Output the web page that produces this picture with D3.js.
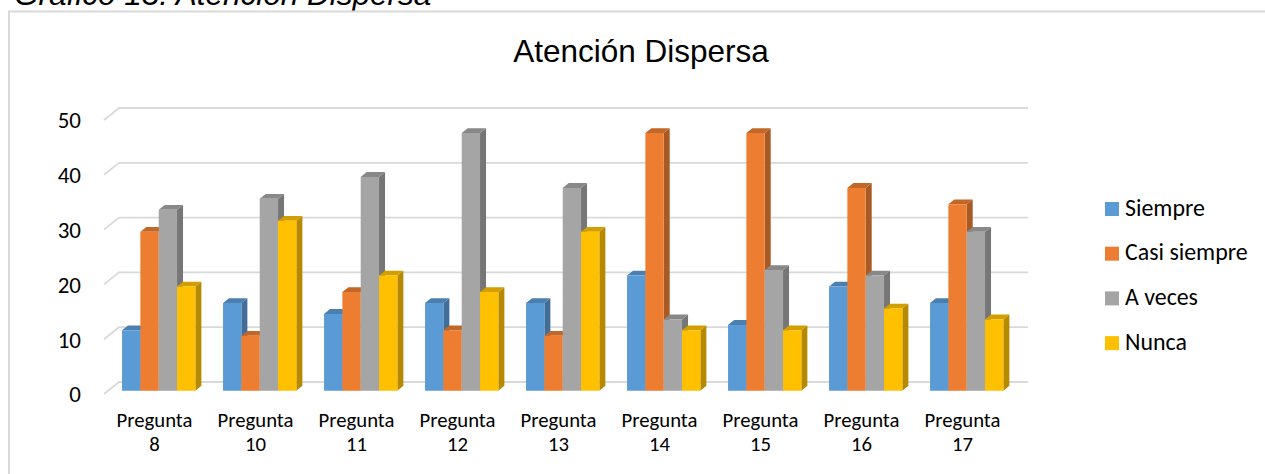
<!DOCTYPE html>
<html>
<head>
<meta charset="utf-8">
<script src="https://cdn.jsdelivr.net/npm/d3@7"></script>
<style>
  html, body { margin: 0; padding: 0; background: #fff; overflow: hidden; }
  svg { display: block; }
</style>
</head>
<body>
<svg id="chart" width="1265" height="474"></svg>
<script>
// Response counts per question
const categories = ["Pregunta 8", "Pregunta 10", "Pregunta 11", "Pregunta 12", "Pregunta 13",
                    "Pregunta 14", "Pregunta 15", "Pregunta 16", "Pregunta 17"];
const seriesNames = ["Siempre", "Casi siempre", "A veces", "Nunca"];
const siempre     = [11, 16, 14, 16, 16, 21, 12, 19, 16];
const casiSiempre = [29, 10, 18, 11, 10, 47, 47, 37, 34];
const aVeces      = [33, 35, 39, 47, 37, 13, 22, 21, 29];
const nunca       = [19, 31, 21, 18, 29, 11, 11, 15, 13];
const yTicks      = [0, 10, 20, 30, 40, 50];
const seriesColors = ["#5B9BD5", "#ED7D31", "#A5A5A5", "#FFC000"];

const seriesValues = [siempre, casiSiempre, aVeces, nunca];

const svg = d3.select("#chart");
const uiFont = "Carlito, Calibri, Lato, sans-serif";
const titleFont = "'Liberation Sans', Arial, sans-serif";

// font size that makes a sample string reach a given width
function fitSize(family, sample, target) {
  const t = svg.append("text").attr("font-family", family).attr("font-size", 100).text(sample);
  const w = t.node().getComputedTextLength();
  t.remove();
  return 100 * target / w;
}
const xLabelSize = fitSize(uiFont, "Pregunta", 76);
const yLabelSize = fitSize(uiFont, "50", 23.3);
const legendSize = fitSize(uiFont, "Casi siempre", 122.7);

// document caption above the chart frame (clipped by the page top)
svg.append("text")
  .attr("x", 14).attr("y", 4.5)
  .attr("font-family", titleFont).attr("font-style", "italic")
  .attr("font-size", 31.5).attr("fill", "#000")
  .text("Gráfico 13: Atención Dispersa");

// chart frame
svg.append("rect")
  .attr("x", 9).attr("y", 11.5).attr("width", 1400).attr("height", 600)
  .attr("fill", "none").attr("stroke", "#D9D9D9").attr("stroke-width", 2);

// title
svg.append("text")
  .attr("x", 641).attr("y", 61.7)
  .attr("text-anchor", "middle")
  .attr("font-family", titleFont).attr("font-size", 31.5).attr("fill", "#000")
  .text("Atención Dispersa");

// 3-D projection: the floor depth runs from z=0 (front) to z=1 (back wall)
const depthX = 15, depthY = -12;
const y = d3.scaleLinear().domain([0, 50]).range([394, 120]);
const x = d3.scaleBand().domain(categories).range([104, 1013]).paddingInner(0.274).paddingOuter(0.137);
const xs = d3.scaleBand().domain(seriesNames).range([0, x.bandwidth()]).padding(0);
const proj = (px, v, z) => [px + z * depthX, y(v) + z * depthY];

// gridlines: short diagonal on the floor edge, then along the back wall
const grid = svg.append("g").attr("fill", "none").attr("stroke", "#D9D9D9").attr("stroke-width", 1.8);
const leftX = x.range()[0], rightX = x.range()[1];
yTicks.forEach(t => {
  const a = proj(leftX, t, 0), b = proj(leftX, t, 1), c = proj(rightX, t, 1);
  grid.append("path").attr("d", d3.line()([a, b, c]));
});

// y tick labels
svg.append("g").selectAll("text").data(yTicks).join("text")
  .attr("x", 81).attr("y", d => y(d) + 3)
  .attr("text-anchor", "end").attr("dominant-baseline", "middle")
  .attr("font-family", uiFont).attr("font-size", yLabelSize).attr("fill", "#000")
  .text(d => d);

// x category labels on two lines
const xl = svg.append("g").selectAll("text").data(categories).join("text")
  .attr("text-anchor", "middle")
  .attr("font-family", uiFont).attr("font-size", xLabelSize).attr("fill", "#000");
xl.each(function(d) {
  const parts = d.split(" ");
  const cx = x(d) + x.bandwidth() / 2;
  d3.select(this).append("tspan").attr("x", cx).attr("y", 427).text(parts[0]);
  d3.select(this).append("tspan").attr("x", cx).attr("y", 451).text(parts[1]);
});

// bars as boxes: front face, top face and right side face
const z0 = 0.28, z1 = 0.68;
const bars = svg.append("g");
categories.forEach((cat, i) => {
  seriesNames.forEach((s, j) => {
    const v = seriesValues[j][i];
    const base = d3.color(seriesColors[j]);
    const xl0 = x(cat) + xs(s), xr0 = xl0 + xs.bandwidth();
    const ftl = proj(xl0, v, z0), ftr = proj(xr0, v, z0), fbr = proj(xr0, 0, z0), fbl = proj(xl0, 0, z0);
    const btl = proj(xl0, v, z1), btr = proj(xr0, v, z1), bbr = proj(xr0, 0, z1);
    const g = bars.append("g");
    g.append("path").attr("d", d3.line()([ftr, btr, bbr, fbr]) + "Z")
      .attr("fill", base.darker(0.95).formatHex());
    g.append("path").attr("d", d3.line()([ftl, ftr, btr, btl]) + "Z")
      .attr("fill", base.darker(0.55).formatHex());
    g.append("path").attr("d", d3.line()([ftl, ftr, fbr, fbl]) + "Z")
      .attr("fill", base.formatHex());
  });
});

// legend
const legend = svg.append("g");
const legendY = [209, 253.7, 298.4, 343.1];
seriesNames.forEach((s, j) => {
  legend.append("rect")
    .attr("x", 1105).attr("y", legendY[j] - 7).attr("width", 14).attr("height", 14)
    .attr("fill", seriesColors[j]);
  legend.append("text")
    .attr("x", 1125).attr("y", legendY[j] + 1)
    .attr("dominant-baseline", "middle")
    .attr("font-family", uiFont).attr("font-size", legendSize).attr("fill", "#000")
    .text(s);
});
</script>
</body>
</html>
